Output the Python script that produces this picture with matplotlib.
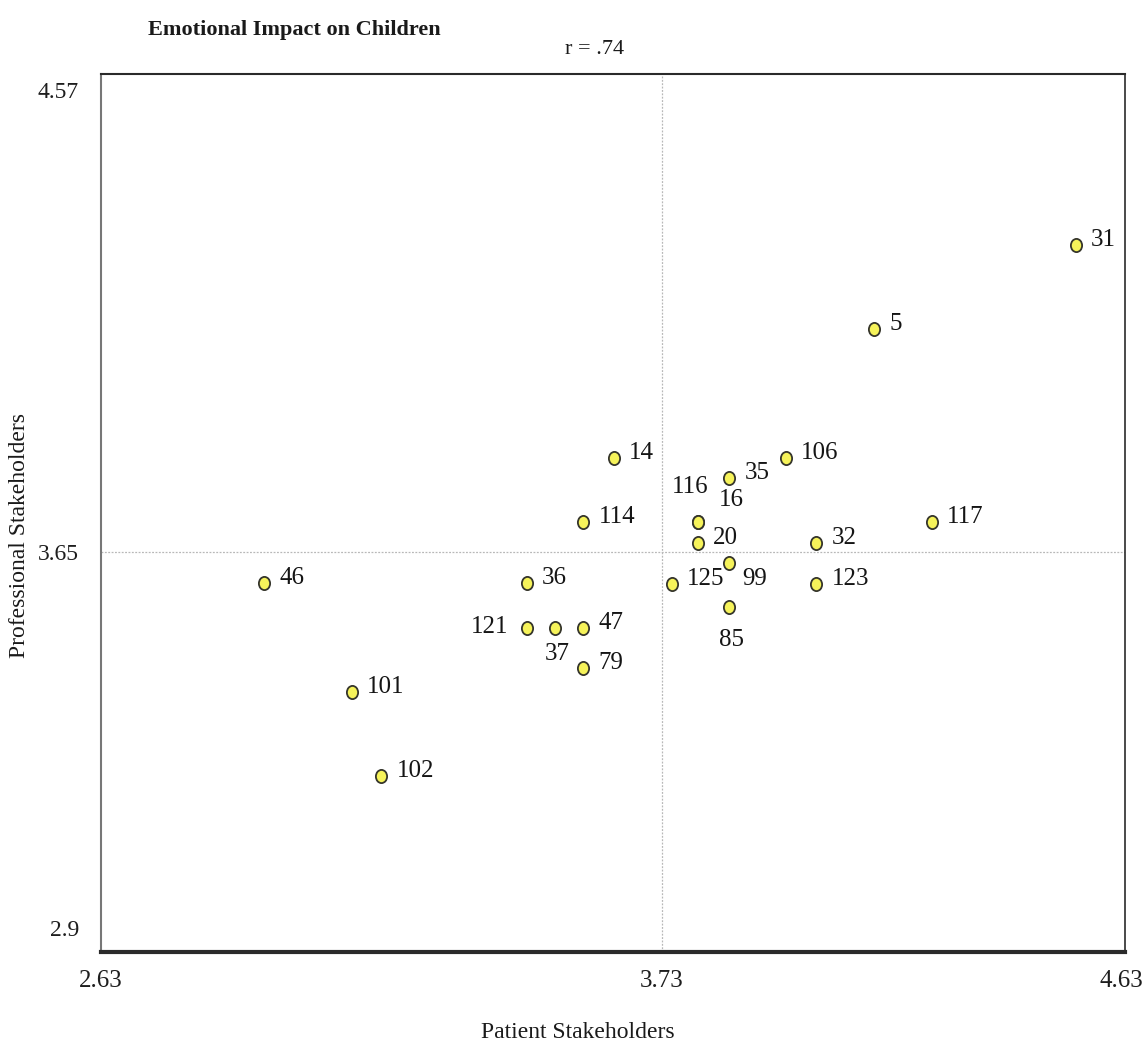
import matplotlib
matplotlib.use("Agg")
import matplotlib.pyplot as plt
from matplotlib.path import Path
from matplotlib.transforms import Affine2D

# Statement ratings: patient vs professional stakeholder means
point_ids = ["31", "5", "106", "14", "35", "116", "16", "114", "117", "20",
             "32", "99", "46", "36", "125", "123", "85", "121", "37", "47",
             "79", "101", "102"]
patient = [4.542, 4.146, 3.973, 3.635, 3.862, 3.801, 3.801, 3.576, 4.259, 3.801,
           4.033, 3.862, 2.950, 3.465, 3.749, 4.033, 3.862, 3.465, 3.520, 3.576,
           3.576, 3.122, 3.180]
professional = [4.262, 4.093, 3.836, 3.836, 3.796, 3.710, 3.710, 3.710, 3.710, 3.668,
                3.667, 3.627, 3.587, 3.587, 3.586, 3.586, 3.540, 3.497, 3.497, 3.497,
                3.418, 3.370, 3.202]

x_ticks = [2.63, 3.73, 4.63]
x_tick_labels = ["2.63", "3.73", "4.63"]
y_ticks = [2.9, 3.65, 4.57]
y_tick_labels = ["2.9", "3.65", "4.57"]
x_mean = 3.73
y_mean = 3.65

title_text = "Emotional Impact on Children"
r_text = "r = .74"
x_label = "Patient Stakeholders"
y_label = "Professional Stakeholders"

# label placement: (dx, dy) in pixels and horizontal alignment
default_offset = (15, 5, "left")
label_offsets = {
    "116": (-8, 35, "center"),
    "16": (33, 22, "center"),
    "121": (-18, 1, "right"),
    "37": (2, -26, "center"),
    "99": (25, -16, "center"),
    "85": (2, -33, "center"),
}

plt.rcParams["font.family"] = ["Liberation Serif", "DejaVu Serif"]

W, H = 1146, 1049
fig = plt.figure(figsize=(W / 100, H / 100), dpi=100)
fig.patch.set_facecolor("white")

left_px, right_px, top_px, bottom_px = 101, 1125, 74, 952
ax = fig.add_axes([left_px / W, 1 - bottom_px / H,
                   (right_px - left_px) / W, (bottom_px - top_px) / H])

ax.set_xlim(2.63, 4.638)
ax.set_ylim(2.852, 4.602)

# mean reference lines
ax.axvline(x_mean, color="#b8b8b8", lw=0.9, ls=(0, (1.5, 1.2)), zorder=1)
ax.axhline(y_mean, color="#b8b8b8", lw=0.9, ls=(0, (1.5, 1.2)), zorder=1)

# slightly tall oval markers
oval = Path.unit_circle().transformed(Affine2D().scale(0.85, 1.0))
ax.plot(patient, professional, linestyle="none", marker=oval, ms=9.5,
        mfc="#f6f35a", mec="#35352b", mew=1.3, zorder=3)

for pid, px, py in zip(point_ids, patient, professional):
    dx, dy, ha = label_offsets.get(pid, default_offset)
    ax.annotate(pid, (px, py), xytext=(dx, dy), textcoords="offset pixels",
                ha=ha, va="center", fontsize=18, color="#151515", zorder=4)

ax.set_xticks(x_ticks)
ax.set_xticklabels(x_tick_labels, fontsize=18, color="#1e1e1e")
ax.set_yticks(y_ticks)
ax.set_yticklabels(y_tick_labels, fontsize=17, color="#1e1e1e")
ax.tick_params(axis="x", length=0, pad=13)
ax.tick_params(axis="y", length=0, pad=16)

ax.spines["top"].set_color("#2a2a2a")
ax.spines["top"].set_linewidth(1.5)
ax.spines["right"].set_color("#2a2a2a")
ax.spines["right"].set_linewidth(1.2)
ax.spines["left"].set_color("#777777")
ax.spines["left"].set_linewidth(1.5)
ax.spines["bottom"].set_color("#2a2a2a")
ax.spines["bottom"].set_linewidth(3.0)

fig.text(148 / W, 1 - 30 / H, title_text, ha="left", va="center",
         fontsize=16, fontweight="bold", color="#1a1a1a")
fig.text(595 / W, 1 - 50 / H, r_text, ha="center", va="center",
         fontsize=16, color="#1a1a1a")
fig.text(578 / W, 1 - 1032 / H, x_label, ha="center", va="center",
         fontsize=17, color="#1a1a1a")
fig.text(20 / W, 1 - 535 / H, y_label, ha="center", va="center",
         rotation=90, fontsize=17, color="#1a1a1a")

fig.savefig("out.png", dpi=100, facecolor="white")
